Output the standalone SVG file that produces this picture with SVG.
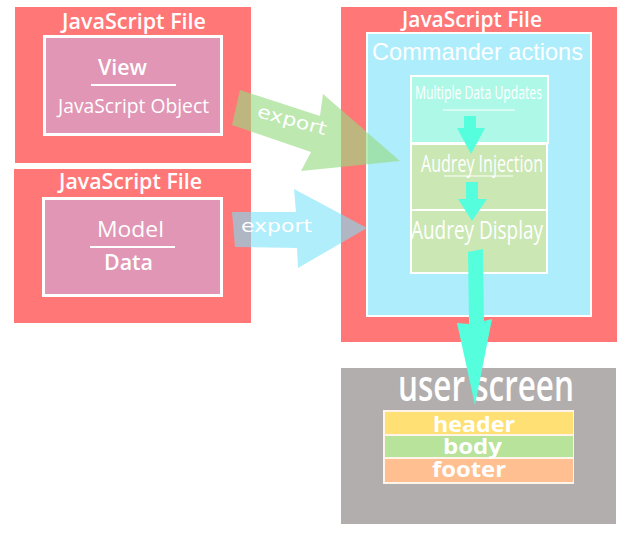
<svg xmlns="http://www.w3.org/2000/svg" width="628" height="533" viewBox="0 0 628 533">
<style>
.file{fill:#ff7777}
.obj{fill:#e096b4;stroke:#ffffff;stroke-width:3}
.t{fill:#ffffff;font-family:"Open Sans","DejaVu Sans",sans-serif;text-anchor:middle}
.title{font-size:21px;font-weight:600}
.ul{stroke:#ffffff;fill:none}
.step{stroke:#ffffff;stroke-width:2}
.flow{fill:#55ffdd}
.exp{fill:#ffffff;font-family:"DejaVu Sans",sans-serif;font-size:18px;text-anchor:middle}
.row{font-size:22px;font-weight:700}
</style>
<rect width="628" height="533" fill="#ffffff"/>
<g id="view-file">
<rect class="file" x="15" y="7" width="236" height="156"/>
<text class="t title" x="134" y="29" textLength="144" lengthAdjust="spacingAndGlyphs">JavaScript File</text>
<rect class="obj" x="44.5" y="36.5" width="177" height="98"/>
<text class="t" x="122.5" y="75" font-size="21" font-weight="600" textLength="49" lengthAdjust="spacingAndGlyphs">View</text>
<line class="ul" x1="91" y1="85" x2="176" y2="85" stroke-width="2"/>
<text class="t" x="133.5" y="113" font-size="20" font-weight="500" textLength="151" lengthAdjust="spacingAndGlyphs">JavaScript Object</text>
</g>
<g id="model-file">
<rect class="file" x="14" y="169" width="237" height="154"/>
<text class="t title" x="130.5" y="189" textLength="143" lengthAdjust="spacingAndGlyphs">JavaScript File</text>
<rect class="obj" x="43.5" y="198.5" width="178" height="97"/>
<text class="t" x="130.5" y="237" font-size="21" font-weight="500" textLength="67" lengthAdjust="spacingAndGlyphs">Model</text>
<line class="ul" x1="90" y1="247" x2="175" y2="247" stroke-width="2"/>
<text class="t" x="128.5" y="270" font-size="21" font-weight="600" textLength="49" lengthAdjust="spacingAndGlyphs">Data</text>
</g>
<g id="commander-file">
<rect class="file" x="341" y="7" width="276" height="335"/>
<text class="t title" x="472" y="27" textLength="140" lengthAdjust="spacingAndGlyphs">JavaScript File</text>
<rect x="367" y="33" width="224" height="283" fill="#aeeefc" stroke="#ffffff" stroke-width="2"/>
<text x="477.5" y="60" fill="#ffffff" font-family="'Liberation Sans',Arial,sans-serif" font-size="24" text-anchor="middle" textLength="211" lengthAdjust="spacingAndGlyphs">Commander actions</text>
</g>
<g id="multiple-data-updates">
<rect class="step" x="411" y="76" width="137" height="67" fill="#aef8e8"/>
<text class="t" x="478.5" y="99" font-size="19" font-weight="500" textLength="127" lengthAdjust="spacingAndGlyphs">Multiple Data Updates</text>
<line class="ul" x1="443" y1="110" x2="515" y2="110" stroke-width="1"/>
</g>
<g id="audrey-injection">
<rect class="step" x="411" y="144" width="136" height="66" fill="#cbe7b3"/>
<text class="t" x="482" y="172" font-size="23" font-weight="500" textLength="122" lengthAdjust="spacingAndGlyphs">Audrey Injection</text>
<line class="ul" x1="444" y1="176" x2="513" y2="176" stroke-width="1"/>
</g>
<g id="audrey-display">
<rect class="step" x="411" y="210" width="136" height="63" fill="#cbe7b3"/>
<text class="t" x="477" y="239" font-size="26" font-weight="500" textLength="132" lengthAdjust="spacingAndGlyphs">Audrey Display</text>
</g>
<g id="user-screen">
<rect x="341" y="368" width="275" height="156" fill="#b3aeae"/>
<text class="t" x="486" y="401" font-size="44" font-weight="600" textLength="176" lengthAdjust="spacingAndGlyphs">user screen</text>
<rect x="383" y="410" width="191" height="74" fill="#fff4ea"/>
<rect x="385" y="412" width="188" height="22" fill="#ffe074"/>
<rect x="385" y="436" width="188" height="21" fill="#b8e39a"/>
<rect x="385" y="459" width="188" height="23" fill="#ffbf90"/>
<text class="t row" x="474" y="432" textLength="82" lengthAdjust="spacingAndGlyphs">header</text>
<text class="t row" x="472.5" y="454" textLength="59" lengthAdjust="spacingAndGlyphs">body</text>
<text class="t row" x="469" y="477" textLength="74" lengthAdjust="spacingAndGlyphs">footer</text>
</g>
<g id="connectors">
<polygon points="240,90 320,116 323,94 400,161 301,171 311,152 232,125" fill="#97db82" fill-opacity="0.63"/>
<text class="exp" x="290.5" y="126" transform="rotate(15 290.5 126)" textLength="71" lengthAdjust="spacingAndGlyphs">export</text>
<polygon points="232,212 296,212 294,189 367,228 298,268 297,248 235,247" fill="#79e2fa" fill-opacity="0.59"/>
<text class="exp" x="276.5" y="232" textLength="71" lengthAdjust="spacingAndGlyphs">export</text>
<polygon class="flow" points="464,116 476,116 476,128 485,128 471,154 457,128 464,128"/>
<polygon class="flow" points="466,182 478,182 478,199 487,199 472,221 458,199 466,199"/>
<polygon class="flow" points="468,252 483,249 484,321 492,319 475,405 457,323 469,324"/>
</g>
</svg>
